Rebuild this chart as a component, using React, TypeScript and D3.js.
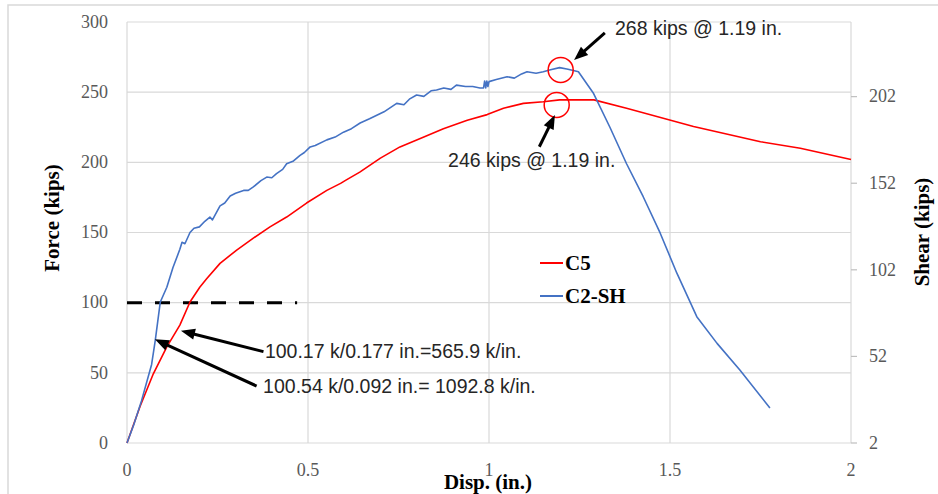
import * as d3 from 'd3'

// C2-SH (blue) : [disp in., force kips]
const c2shDisp = [0, 0.02, 0.04, 0.068, 0.078, 0.092, 0.11, 0.127, 0.146, 0.152, 0.16, 0.174, 0.185, 0.2, 0.215, 0.229, 0.236, 0.257, 0.27, 0.285, 0.3, 0.322, 0.335, 0.349, 0.37, 0.386, 0.4, 0.413, 0.43, 0.441, 0.46, 0.478, 0.49, 0.506, 0.52, 0.552, 0.575, 0.598, 0.62, 0.644, 0.67, 0.69, 0.71, 0.745, 0.765, 0.78, 0.8, 0.82, 0.84, 0.855, 0.875, 0.895, 0.91, 0.935, 0.955, 0.975, 0.985, 0.988, 0.991, 0.994, 0.997, 1.0, 1.02, 1.05, 1.07, 1.09, 1.105, 1.13, 1.15, 1.17, 1.195, 1.215, 1.233, 1.247, 1.289, 1.334, 1.38, 1.426, 1.473, 1.519, 1.574, 1.63, 1.693, 1.776]
const c2shForce = [0, 14, 30, 56, 73, 100.5, 111, 125, 138, 143, 142, 150, 153, 154, 158, 161, 159, 169, 171, 176, 178, 180, 180, 182.5, 187, 189.5, 189, 192, 195, 199, 201, 205, 207, 211, 212, 216, 218, 221.5, 224, 228, 231, 233.5, 236, 242, 241, 245, 248, 247, 251, 251.5, 253, 252, 255, 254, 254, 253, 253, 258, 253, 258, 254, 257.5, 259, 261, 260, 263, 264.5, 263.5, 264.5, 266, 267.5, 266.5, 265.5, 264.5, 249, 225, 199, 175.5, 149.5, 121, 90, 71, 52, 25]

// C5 (red)
const c5Disp = [0, 0.036, 0.073, 0.11, 0.146, 0.174, 0.201, 0.22, 0.257, 0.303, 0.349, 0.395, 0.441, 0.496, 0.552, 0.59, 0.606, 0.643, 0.7, 0.754, 0.82, 0.874, 0.94, 0.995, 1.04, 1.095, 1.15, 1.195, 1.26, 1.29, 1.38, 1.565, 1.75, 1.86, 2.0]
const c5Force = [0, 26, 49.5, 68.5, 84, 100.5, 111, 117, 128, 137.5, 146, 154, 161, 171, 180, 185, 187.5, 193, 203, 211, 218, 224, 230, 234, 238.5, 242, 243.2, 244.5, 244.5, 244.5, 238.5, 225.5, 214.7, 210, 202]

const xTicks = [0, 0.5, 1, 1.5, 2]
const yTicks = [0, 50, 100, 150, 200, 250, 300]
const shearTicks = [2, 52, 102, 152, 202]

const legendItems = ['C5', 'C2-SH']
const legendColors = ['#ff0000', '#4472c4']

// annotations, in data units (disp, force)
const peakCircles = [[1.198, 265.8], [1.187, 240.9]]
const arrows = [
  [1.32, 292.2, 1.235, 272.9],
  [1.139, 211.1, 1.182, 233.7],
  [0.377, 65.1, 0.149, 80.0],
  [0.358, 40.6, 0.077, 73.9],
]
const notes = [
  { t: '268 kips @ 1.19 in.', d: 1.348, f: 290.7 },
  { t: '246 kips @ 1.19 in.', d: 0.887, f: 196.7 },
  { t: '100.17 k/0.177 in.=565.9 k/in.', d: 0.381, f: 60.6 },
  { t: '100.54 k/0.092 in.= 1092.8 k/in.', d: 0.376, f: 35.6 },
]
const dashLevel = 100
const dashEnd = 0.47

const W = 938
const H = 494
const serif = '"Liberation Serif", "Times New Roman", serif'
const sans = '"Liberation Sans", Arial, sans-serif'

export default function App() {
  const x = d3.scaleLinear().domain([0, 2]).range([127, 851])
  const y = d3.scaleLinear().domain([0, 300]).range([443, 22])
  const y2 = d3.scaleLinear().domain([2, 245.1]).range([443, 22])

  const path = (ds: number[], fs: number[]) =>
    d3
      .line<[number, number]>()
      .x((p) => x(p[0]))
      .y((p) => y(p[1]))(ds.map((d, i) => [d, fs[i]]))

  const arrowHead = 14
  return (
    <svg width={W} height={H} style={{ position: 'absolute', left: 0, top: 0, background: '#fff' }}>
      <rect x={8} y={5} width={W} height={H} fill="#fff" stroke="#d9d9d9" strokeWidth={1.5} />
      {/* grid */}
      {yTicks.map((t) => (
        <line key={'gy' + t} x1={x(0)} x2={x(2)} y1={y(t)} y2={y(t)} stroke="#d9d9d9" strokeWidth={1.2} />
      ))}
      {xTicks.map((t) => (
        <line key={'gx' + t} x1={x(t)} x2={x(t)} y1={y(0)} y2={y(300)} stroke="#d9d9d9" strokeWidth={1.2} />
      ))}
      {shearTicks.map((t) => (
        <line key={'st' + t} x1={x(2)} x2={x(2) + 6} y1={y2(t)} y2={y2(t)} stroke="#bfbfbf" strokeWidth={1.2} />
      ))}
      {/* tick labels */}
      {yTicks.map((t) => (
        <text key={'ly' + t} x={108} y={y(t)} dy="0.32em" textAnchor="end" fontFamily={serif} fontSize={18} fill="#595959">
          {t}
        </text>
      ))}
      {xTicks.map((t) => (
        <text key={'lx' + t} x={x(t)} y={476} textAnchor="middle" fontFamily={serif} fontSize={18} fill="#595959">
          {t}
        </text>
      ))}
      {shearTicks.map((t) => (
        <text key={'ls' + t} x={869} y={y2(t)} dy="0.32em" fontFamily={serif} fontSize={18} fill="#595959">
          {t}
        </text>
      ))}
      {/* axis titles */}
      <text transform="translate(59,218) rotate(-90)" textAnchor="middle" fontFamily={serif} fontWeight="bold" fontSize={21}>
        Force (kips)
      </text>
      <text transform="translate(929,232) rotate(-90)" textAnchor="middle" fontFamily={serif} fontWeight="bold" fontSize={21}>
        Shear (kips)
      </text>
      <text x={488} y={489} textAnchor="middle" fontFamily={serif} fontWeight="bold" fontSize={21}>
        Disp. (in.)
      </text>
      {/* dashed reference */}
      <line x1={x(0)} x2={x(dashEnd)} y1={y(dashLevel)} y2={y(dashLevel)} stroke="#000" strokeWidth={3} strokeDasharray="15,13" />
      {/* series */}
      <path d={path(c5Disp, c5Force) || ''} fill="none" stroke={legendColors[0]} strokeWidth={1.6} strokeLinejoin="round" />
      <path d={path(c2shDisp, c2shForce) || ''} fill="none" stroke={legendColors[1]} strokeWidth={1.6} strokeLinejoin="round" />
      {/* peak circles */}
      {peakCircles.map(([d, f], i) => (
        <circle key={'c' + i} cx={x(d)} cy={y(f)} r={12.5} fill="none" stroke="#ff0000" strokeWidth={1.5} />
      ))}
      {/* arrows */}
      {arrows.map(([d0, f0, d1, f1], i) => {
        const x0 = x(d0), y0 = y(f0), x1 = x(d1), y1 = y(f1)
        const len = Math.hypot(x1 - x0, y1 - y0)
        const ux = (x1 - x0) / len, uy = (y1 - y0) / len
        const bx = x1 - ux * arrowHead, by = y1 - uy * arrowHead
        const px = -uy * 5.5, py = ux * 5.5
        return (
          <g key={'a' + i}>
            <line x1={x0} y1={y0} x2={bx + ux * 2} y2={by + uy * 2} stroke="#000" strokeWidth={3} />
            <polygon points={`${x1},${y1} ${bx + px},${by + py} ${bx - px},${by - py}`} fill="#000" />
          </g>
        )
      })}
      {/* notes */}
      {notes.map((n, i) => (
        <text key={'n' + i} x={x(n.d)} y={y(n.f)} fontFamily={sans} fontSize={19.5} fill="#262626">
          {n.t}
        </text>
      ))}
      {/* legend */}
      {legendItems.map((name, i) => (
        <g key={name} transform={`translate(540,${263 + i * 33})`}>
          <line x1={0} x2={23} y1={0} y2={0} stroke={legendColors[i]} strokeWidth={2} />
          <text x={25} y={7} fontFamily={serif} fontWeight="bold" fontSize={21}>
            {name}
          </text>
        </g>
      ))}
    </svg>
  )
}
